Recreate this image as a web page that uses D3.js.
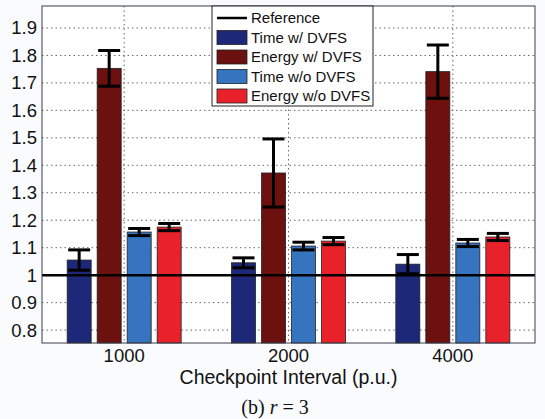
<!DOCTYPE html>
<html>
<head>
<meta charset="utf-8">
<script src="https://cdn.jsdelivr.net/npm/d3@7"></script>
<style>
    body { margin: 0; background: #fafbfd; }
    svg { display: block; }
    .grid line { stroke: #666; stroke-width: 1; stroke-dasharray: 1.5 3; }
    .axis text { font-family: "Liberation Sans", Arial, sans-serif; fill: #111; }
    .legend text { font-family: "Liberation Sans", Arial, sans-serif; font-size: 15px; fill: #111; }
</style>
</head>
<body>
<svg id="chart" width="545" height="419"></svg>
<script>
var categories = ["1000", "2000", "4000"];
var series = ["Time w/ DVFS", "Energy w/ DVFS", "Time w/o DVFS", "Energy w/o DVFS"];
var colors = ["#1d2878", "#6c1010", "#3674bf", "#e8212a"];

// mean values per series, one entry per category
var timeDvfs = [1.055, 1.045, 1.040];
var energyDvfs = [1.753, 1.372, 1.741];
var timeNoDvfs = [1.157, 1.106, 1.117];
var energyNoDvfs = [1.175, 1.124, 1.139];

// error bar half widths
var timeDvfsErr = [0.037, 0.018, 0.035];
var energyDvfsErr = [0.065, 0.124, 0.097];
var timeNoDvfsErr = [0.013, 0.014, 0.013];
var energyNoDvfsErr = [0.013, 0.013, 0.013];

var referenceValue = 1;
var yTicks = [0.8, 0.9, 1, 1.1, 1.2, 1.3, 1.4, 1.5, 1.6, 1.7, 1.8, 1.9];
var yDomain = [0.753, 1.98];

var values = [timeDvfs, energyDvfs, timeNoDvfs, energyNoDvfs];
var errors = [timeDvfsErr, energyDvfsErr, timeNoDvfsErr, energyNoDvfsErr];

var svg = d3.select("#chart");

var margin = {top: 6, right: 10, bottom: 76, left: 42}
    , width = svg.attr("width") - margin.left - margin.right
    , height = svg.attr("height") - margin.top - margin.bottom
    , g = svg.append("g").attr("transform", "translate(" + margin.left + "," + margin.top + ")")
    ;

var x0 = d3.scaleBand().domain(categories).range([0, width]);
var x1 = d3.scaleBand().domain(series).range([-60, 60]).paddingInner(0.2).paddingOuter(0.1);
var y = d3.scaleLinear().domain(yDomain).range([height, 0]);

g.append("rect")
    .attr("width", width)
    .attr("height", height)
    .attr("fill", "#fff");

// grid
g.append("g")
    .attr("class", "grid")
    .selectAll("line.h")
    .data(yTicks)
    .enter().append("line")
    .attr("x1", 0)
    .attr("x2", width)
    .attr("y1", function(d) { return y(d); })
    .attr("y2", function(d) { return y(d); });

g.append("g")
    .attr("class", "grid")
    .selectAll("line.v")
    .data(categories)
    .enter().append("line")
    .attr("x1", function(d) { return x0(d) + x0.bandwidth() / 2; })
    .attr("x2", function(d) { return x0(d) + x0.bandwidth() / 2; })
    .attr("y1", 0)
    .attr("y2", height);

// bars
var rows = [];
categories.forEach(function(c, ci) {
    series.forEach(function(s, si) {
        rows.push({cat: c, ser: s, si: si, v: values[si][ci], e: errors[si][ci]});
    });
});

var cx = function(d) { return x0(d.cat) + x0.bandwidth() / 2 + x1(d.ser); };

g.append("g").selectAll("rect")
    .data(rows)
    .enter().append("rect")
    .attr("x", cx)
    .attr("width", x1.bandwidth())
    .attr("y", function(d) { return y(d.v); })
    .attr("height", function(d) { return height - y(d.v); })
    .attr("fill", function(d) { return colors[d.si]; })
    .attr("stroke", "#222")
    .attr("stroke-width", 0.8);

// error bars
var eb = g.append("g").selectAll("g")
    .data(rows)
    .enter().append("g")
    .attr("stroke", "#000")
    .attr("stroke-width", 3);

eb.append("line")
    .attr("x1", function(d) { return cx(d) + x1.bandwidth() / 2; })
    .attr("x2", function(d) { return cx(d) + x1.bandwidth() / 2; })
    .attr("y1", function(d) { return y(d.v + d.e); })
    .attr("y2", function(d) { return y(d.v - d.e); });

[1, -1].forEach(function(sign) {
    eb.append("line")
        .attr("x1", function(d) { return cx(d) + 1; })
        .attr("x2", function(d) { return cx(d) + x1.bandwidth() - 1; })
        .attr("y1", function(d) { return y(d.v + sign * d.e); })
        .attr("y2", function(d) { return y(d.v + sign * d.e); });
});

// reference line
g.append("line")
    .attr("x1", 0)
    .attr("x2", width)
    .attr("y1", y(referenceValue))
    .attr("y2", y(referenceValue))
    .attr("stroke", "#000")
    .attr("stroke-width", 2.5);

// frame
g.append("rect")
    .attr("width", width)
    .attr("height", height)
    .attr("fill", "none")
    .attr("stroke", "#3a3d4a")
    .attr("stroke-width", 1);

// axes
var yAxis = g.append("g")
    .attr("class", "axis axis--y")
    .call(d3.axisLeft(y).tickValues(yTicks).tickSize(0).tickPadding(5).tickFormat(d3.format("~g")));
yAxis.select(".domain").remove();
yAxis.selectAll("text").style("font-size", "18.5px");

var xAxis = g.append("g")
    .attr("class", "axis axis--x")
    .attr("transform", "translate(0," + height + ")")
    .call(d3.axisBottom(x0).tickSize(0).tickPadding(6));
xAxis.select(".domain").remove();
xAxis.selectAll("text").style("font-size", "18.5px");

g.append("text")
    .attr("x", width / 2)
    .attr("y", height + 41)
    .attr("text-anchor", "middle")
    .style("font-family", "'Liberation Sans', Arial, sans-serif")
    .style("font-size", "19.5px")
    .attr("fill", "#111")
    .text("Checkpoint Interval (p.u.)");

// legend
var lg = svg.append("g")
    .attr("class", "legend")
    .attr("transform", "translate(212,6)");

lg.append("rect")
    .attr("width", 161)
    .attr("height", 100)
    .attr("fill", "#fff")
    .attr("stroke", "#222")
    .attr("stroke-width", 1);

var entries = ["Reference"].concat(series);

var item = lg.selectAll("g.item")
    .data(entries)
    .enter().append("g")
    .attr("class", "item")
    .attr("transform", function(d, i) { return "translate(5," + (12 + i * 19.5) + ")"; });

item.filter(function(d, i) { return i === 0; })
    .append("line")
    .attr("x1", 0)
    .attr("x2", 30)
    .attr("stroke", "#000")
    .attr("stroke-width", 2.5);

item.filter(function(d, i) { return i > 0; })
    .append("rect")
    .attr("y", -7)
    .attr("width", 30)
    .attr("height", 14)
    .attr("fill", function(d, i) { return colors[i]; })
    .attr("stroke", "#222")
    .attr("stroke-width", 0.8);

item.append("text")
    .attr("x", 34)
    .attr("dy", "0.35em")
    .text(function(d) { return d; });

// caption
var cap = svg.append("text")
    .attr("x", 275)
    .attr("y", 414)
    .attr("text-anchor", "middle")
    .style("font-family", "'Liberation Serif', 'Times New Roman', serif")
    .style("font-size", "20px")
    .style("white-space", "pre")
    .attr("fill", "#111");
cap.append("tspan").text("(b) ");
cap.append("tspan").style("font-style", "italic").text("r");
cap.append("tspan").attr("dx", 5).text("=");
cap.append("tspan").attr("dx", 5).text("3");
</script>
</body>
</html>
